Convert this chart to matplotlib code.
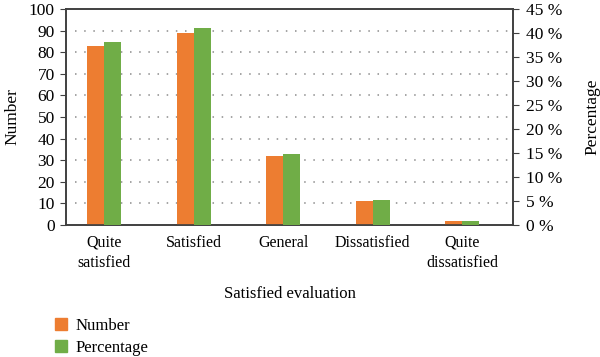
import matplotlib.pyplot as plt
import numpy as np
from matplotlib.patches import Patch
from matplotlib.ticker import FuncFormatter

plt.rcParams['font.family'] = ['Liberation Serif', 'DejaVu Serif']

categories = ['Quite\nsatisfied', 'Satisfied', 'General', 'Dissatisfied', 'Quite\ndissatisfied']
number = [83, 89, 32, 11, 2]
percentage = [38.2, 41.0, 14.7, 5.1, 0.9]

orange = '#ED7D31'
green = '#70AD47'
axis_col = '#404040'

fig = plt.figure(figsize=(6, 3.57), dpi=100)
ax = fig.add_axes([0.11, 0.37, 0.745, 0.605])
ax2 = ax.twinx()

x = np.arange(len(categories))
w = 0.19
ax.bar(x - w / 2, number, w, color=orange, zorder=3)
ax2.bar(x + w / 2, percentage, w, color=green, zorder=3)

ax.set_xlim(-0.43, 4.57)
ax.set_ylim(0, 100)
ax2.set_ylim(0, 45)
ax.set_yticks(range(0, 101, 10))
ax2.set_yticks(range(0, 46, 5))
ax2.yaxis.set_major_formatter(FuncFormatter(lambda v, p: '%d %%' % v))

# dotted guide lines
for yv in range(10, 100, 10):
    ax.axhline(yv, xmin=0.02, xmax=1, color='#8c8c8c', linestyle=(0, (1, 5)), linewidth=1.1, zorder=1)

ax.set_xticks(x)
ax.set_xticklabels(categories, fontsize=11.5, linespacing=1.35)
ax.tick_params(axis='x', length=0, pad=7)
ax.tick_params(axis='y', labelsize=12.5, length=4, color=axis_col, pad=4)
ax2.tick_params(axis='y', labelsize=12.5, length=4, color=axis_col, pad=5)

for a in (ax, ax2):
    for s in a.spines.values():
        s.set_color(axis_col)
        s.set_linewidth(1.2)

ax.set_ylabel('Number', fontsize=12.5, labelpad=6)
ax2.set_ylabel('Percentage', fontsize=12.5, labelpad=16)
ax.set_xlabel('Satisfied evaluation', fontsize=12, labelpad=11)

handles = [Patch(color=orange), Patch(color=green)]
fig.legend(handles, ['Number', 'Percentage'], loc='upper left', bbox_to_anchor=(0.08, 0.128),
           frameon=False, fontsize=12, handlelength=0.75, handleheight=0.75, handletextpad=0.5,
           labelspacing=0.35, borderaxespad=0)

fig.savefig('out.png', dpi=100)
